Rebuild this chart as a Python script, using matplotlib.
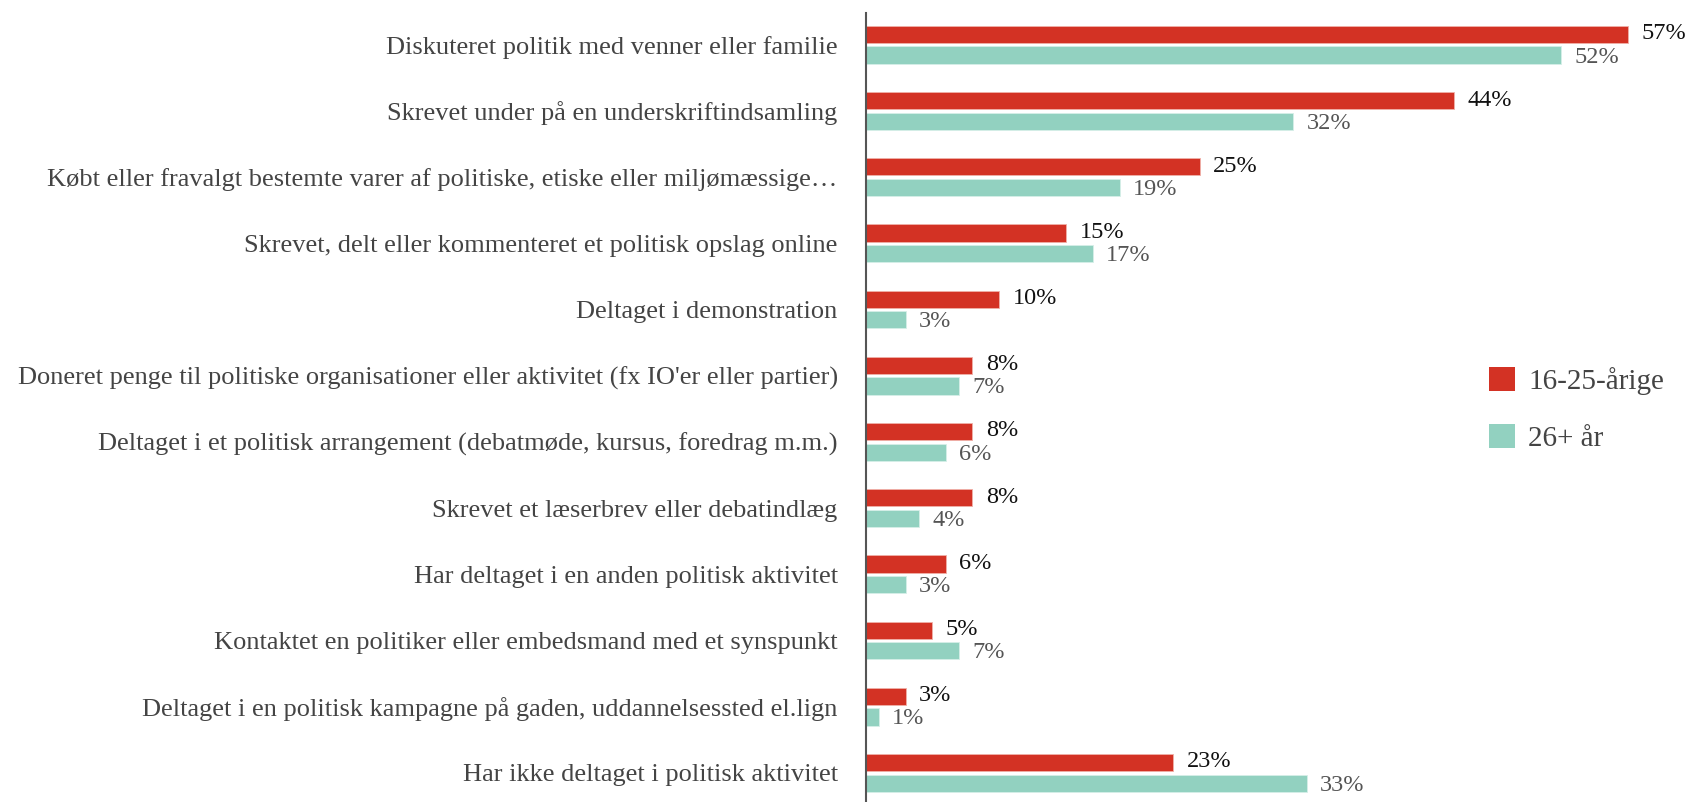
import matplotlib.pyplot as plt
import numpy as np
from matplotlib.patches import Patch

# data
categories = [
    'Diskuteret politik med venner eller familie',
    'Skrevet under på en underskriftindsamling',
    'Købt eller fravalgt bestemte varer af politiske, etiske eller miljømæssige…',
    'Skrevet, delt eller kommenteret et politisk opslag online',
    'Deltaget i demonstration',
    "Doneret penge til politiske organisationer eller aktivitet (fx IO'er eller partier)",
    'Deltaget i et politisk arrangement (debatmøde, kursus, foredrag m.m.)',
    'Skrevet et læserbrev eller debatindlæg',
    'Har deltaget i en anden politisk aktivitet',
    'Kontaktet en politiker eller embedsmand med et synspunkt',
    'Deltaget i en politisk kampagne på gaden, uddannelsessted el.lign',
    'Har ikke deltaget i politisk aktivitet',
]
young = [57, 44, 25, 15, 10, 8, 8, 8, 6, 5, 3, 23]
older = [52, 32, 19, 17, 3, 7, 6, 4, 3, 7, 1, 33]
series_names = ['16-25-årige', '26+ år']

RED = '#d33224'
TEAL = '#92d1c0'

plt.rcParams['font.family'] = ['Liberation Serif', 'DejaVu Serif']

fig = plt.figure(figsize=(16.88, 8.02), dpi=100)
ax = fig.add_axes([865.5 / 1688, 0, 1 - 865.5 / 1688, 1 - 13 / 802])

y = np.arange(len(categories))
h = 0.26
off = 0.155
ax.barh(y - off, young, height=h, color=RED, edgecolor='#f0b0a8', linewidth=0.6)
ax.barh(y + off, older, height=h, color=TEAL, edgecolor='#d6efe8', linewidth=0.6)

# value labels
for i in range(len(categories)):
    ax.text(young[i] + 1.0, y[i] - off - 0.01, f'{young[i]}%', va='center', ha='left',
            fontsize=17.5, color='#111111')
    ax.text(older[i] + 1.0, y[i] + off + 0.03, f'{older[i]}%', va='center', ha='left',
            fontsize=17.5, color='#555555')

ax.set_xlim(0, 61.5)
ax.set_ylim(11.44, -0.48)
ax.set_yticks(y)
ax.set_yticklabels(categories, fontsize=19, color='#444444')
ax.tick_params(axis='y', length=0, pad=20)
ax.set_xticks([])
for s in ['top', 'right', 'bottom']:
    ax.spines[s].set_visible(False)
ax.spines['left'].set_color('#555555')
ax.spines['left'].set_linewidth(1.5)

handles = [Patch(facecolor=RED), Patch(facecolor=TEAL)]
leg = ax.legend(handles, series_names, loc='upper left',
                bbox_to_anchor=(1474 / 1688, 1 - 352 / 802), bbox_transform=fig.transFigure,
                frameon=False, fontsize=21, handlelength=0.9, handleheight=0.9,
                handletextpad=0.45, labelspacing=1.0, borderpad=0)
for t in leg.get_texts():
    t.set_color('#444444')

fig.savefig('out.png', dpi=100)
